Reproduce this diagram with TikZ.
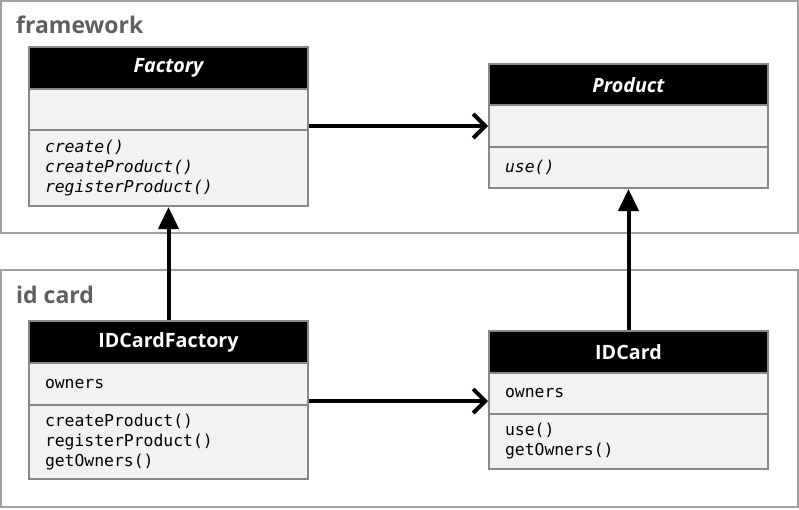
\documentclass[tikz,border=0pt]{standalone}
\usepackage{fontspec}
\usetikzlibrary{arrows.meta,calc}
\newfontfamily\hdrfont{Open Sans}
\newfontfamily\codefont{DejaVu Sans Mono}
\definecolor{framegray}{HTML}{A0A0A0}
\definecolor{boxgray}{HTML}{888888}
\definecolor{compfill}{HTML}{F2F2F2}
\definecolor{titlegray}{HTML}{5F5F5F}
\tikzset{
  pkgframe/.style={draw=framegray, line width=2pt},
  pkgtitle/.style={anchor=base west, inner sep=0pt, text=titlegray, font=\hdrfont\bfseries\fontsize{23}{26}\selectfont},
  hdr/.style={draw=boxgray, line width=2pt, fill=black, text=white, minimum width=279pt, minimum height=42pt, anchor=north west, inner sep=0pt, font=\hdrfont\bfseries\fontsize{19.7}{23}\selectfont},
  comp/.style={draw=boxgray, line width=2pt, fill=compfill, minimum width=279pt, anchor=north west, text width=247pt, inner xsep=16pt, inner ysep=0pt, align=left, font=\codefont\fontsize{16.4}{20}\selectfont},
  inherit/.style={line width=4pt, -{Triangle[length=22pt,width=20pt]}},
  assoc/.style={line width=4pt, -{Straight Barb[length=12pt,width=24pt]}},
}
\begin{document}
\begin{tikzpicture}[x=1pt,y=-1pt]
\useasboundingbox (0,0) rectangle (799,509);
% packages
\draw[pkgframe] (1,1) rectangle (798,233);
\draw[pkgframe] (1,270) rectangle (798,507);
\node[pkgtitle] (tfw) at (16,33) {framework};
\node[pkgtitle] (tid) at (16,303) {id card};
% Factory
\node[hdr] (fhdr) at (28,46) {\itshape Factory};
\node[comp, minimum height=41pt] (fattr) at (28,88) {};
\node[comp, minimum height=76pt] (fmeth) at (28,129) {\itshape create()\\\itshape createProduct()\\\itshape registerProduct()};
% Product
\node[hdr] (phdr) at (488,63) {\itshape Product};
\node[comp, minimum height=42pt] (pattr) at (488,104) {};
\node[comp, minimum height=41pt] (pmeth) at (488,146) {\itshape use()};
% IDCardFactory
\node[hdr] (ihdr) at (28,320) {IDCardFactory};
\node[comp, minimum height=42pt] (iattr) at (28,362) {owners};
\node[comp, minimum height=74pt] (imeth) at (28,404) {createProduct()\\registerProduct()\\getOwners()};
% IDCard
\node[hdr] (chdr) at (488,330) {IDCard};
\node[comp, minimum height=41pt] (cattr) at (488,372) {owners};
\node[comp, minimum height=55pt] (cmeth) at (488,413) {use()\\getOwners()};
% connectors
\coordinate (fa) at ([yshift=5pt]fattr.south east);
\draw[assoc] (fa) -- (fa -| pattr.west);
\coordinate (ia) at ([yshift=5pt]iattr.south east);
\draw[assoc] (ia) -- (ia -| cattr.west);
\draw[inherit] (ihdr.north) -- (fmeth.south);
\draw[inherit] (chdr.north) -- (pmeth.south);
\end{tikzpicture}
\end{document}
